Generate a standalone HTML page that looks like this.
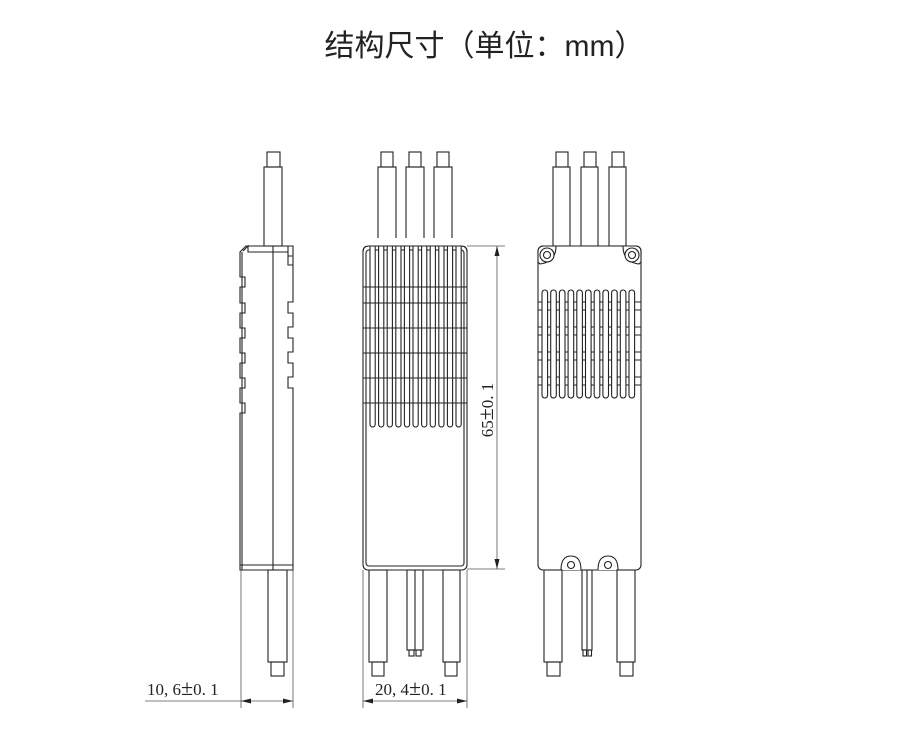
<!DOCTYPE html>
<html><head><meta charset="utf-8">
<style>
html,body{margin:0;padding:0;background:#fff;}
body{width:909px;height:746px;overflow:hidden;position:relative;}
.t{position:absolute;left:55px;width:859px;top:27px;text-align:center;font-family:"Liberation Sans","Noto Sans CJK SC",sans-serif;font-size:30px;color:#222;line-height:40px;}
svg{position:absolute;left:0;top:0;}
.d{font-family:"Liberation Serif","Noto Serif CJK SC",serif;font-size:17px;fill:#222;stroke:none;}
.pm{font-size:22px;}
</style></head><body>
<div class="t">结构尺寸（单位：mm）</div>
<svg width="909" height="746" viewBox="0 0 909 746" fill="none" stroke="#222" stroke-width="1.1">
<defs>
  <g id="fslot"><rect x="0" y="240" width="5.2" height="187" rx="2.6" fill="#fff"/></g>
  <g id="bslot"><rect x="0" y="290" width="5.6" height="108" rx="2.8" fill="#fff"/></g>
</defs>

<!-- SIDE VIEW -->
<rect x="267" y="152" width="13" height="15"/>
<rect x="264" y="167" width="18" height="79"/>
<path d="M240 570 V413 h5 v-10 h-5 V388 h5 v-10 h-5 V363 h5 v-10 h-5 V338 h5 v-10 h-5 V313 h5 v-10 h-5 V287 h5 v-10 h-5 V252 L246 246 H293 V302 h-5 v11 h5 V327 h-5 v11 h5 V352 h-5 v11 h5 V377 h-5 v11 h5 V570 Z"/>
<path d="M242 570 V252 M243 251 L248 246 V252 H288"/>
<line x1="273" y1="246" x2="273" y2="570"/>
<path d="M288 246 V265 H293 M288 256 H293"/>
<line x1="240" y1="565" x2="293" y2="565"/>
<rect x="268" y="570" width="19" height="92"/>
<rect x="271" y="662" width="13" height="14"/>
<g stroke="#555" stroke-width="0.8">
<line x1="241" y1="570" x2="241" y2="708"/>
<line x1="293" y1="570" x2="293" y2="708"/>
<line x1="145" y1="701" x2="293" y2="701"/>
</g>
<path d="M241 701 l10 -2.5 v5 Z M293 701 l-10 -2.5 v5 Z" fill="#222" stroke="none"/>
<text x="147" y="695" class="d">10, 6<tspan class="pm">±</tspan>0. 1</text>

<!-- FRONT VIEW -->
<rect x="381" y="152" width="12" height="15"/><rect x="378" y="167" width="18" height="79"/>
<rect x="409" y="152" width="12" height="15"/><rect x="406" y="167" width="18" height="79"/>
<rect x="437" y="152" width="12" height="15"/><rect x="434" y="167" width="18" height="79"/>
<rect x="363" y="246" width="104" height="324" rx="5" fill="#fff"/>
<rect x="366" y="250" width="98" height="316" rx="3"/>
<g>
<use href="#fslot" x="370"/><use href="#fslot" x="378.6"/><use href="#fslot" x="387.2"/><use href="#fslot" x="395.8"/><use href="#fslot" x="404.4"/><use href="#fslot" x="413"/><use href="#fslot" x="421.6"/><use href="#fslot" x="430.2"/><use href="#fslot" x="438.8"/><use href="#fslot" x="447.4"/><use href="#fslot" x="456"/>
</g>
<g stroke-width="0.9">
<line x1="363" y1="287" x2="467" y2="287"/><line x1="363" y1="303" x2="467" y2="303"/><line x1="363" y1="328" x2="467" y2="328"/><line x1="363" y1="353" x2="467" y2="353"/><line x1="363" y1="378" x2="467" y2="378"/><line x1="363" y1="403" x2="467" y2="403"/>
</g>
<rect x="360" y="238" width="110" height="8" fill="#fff" stroke="none"/>
<path d="M363 252 Q363 246 369 246 H461 Q467 246 467 252"/>
<rect x="369" y="570" width="18" height="92"/><rect x="372" y="662" width="12" height="14"/>
<rect x="443" y="570" width="17" height="92"/><rect x="445" y="662" width="12" height="14"/>
<rect x="407" y="570" width="16" height="80"/><line x1="415" y1="570" x2="415" y2="650"/>
<rect x="409" y="650" width="5" height="6"/><rect x="416" y="650" width="5" height="6"/>
<g stroke="#555" stroke-width="0.8">
<line x1="363" y1="570" x2="363" y2="708"/>
<line x1="467" y1="570" x2="467" y2="708"/>
<line x1="363" y1="701" x2="467" y2="701"/>
<line x1="467" y1="246" x2="505" y2="246"/>
<line x1="467" y1="569" x2="505" y2="569"/>
<line x1="497" y1="246" x2="497" y2="569"/>
</g>
<path d="M363 701 l10 -2.5 v5 Z M467 701 l-10 -2.5 v5 Z M497 246 l-2.5 10 h5 Z M497 569 l-2.5 -10 h5 Z" fill="#222" stroke="none"/>
<text x="375" y="695" class="d">20, 4<tspan class="pm">±</tspan>0. 1</text>
<text transform="translate(493 410) rotate(-90)" text-anchor="middle" class="d">65<tspan class="pm">±</tspan>0. 1</text>

<!-- BACK VIEW -->
<rect x="556" y="152" width="12" height="15"/><rect x="553" y="167" width="17" height="79"/>
<rect x="584" y="152" width="12" height="15"/><rect x="581" y="167" width="17" height="79"/>
<rect x="612" y="152" width="12" height="15"/><rect x="609" y="167" width="17" height="79"/>
<rect x="538" y="246" width="103" height="324" rx="5" fill="#fff"/>
<g stroke-width="0.9">
<line x1="538" y1="302" x2="641" y2="302"/><line x1="538" y1="310" x2="641" y2="310"/><line x1="538" y1="327" x2="641" y2="327"/><line x1="538" y1="335" x2="641" y2="335"/><line x1="538" y1="352" x2="641" y2="352"/><line x1="538" y1="360" x2="641" y2="360"/><line x1="538" y1="377" x2="641" y2="377"/><line x1="538" y1="385" x2="641" y2="385"/>
</g>
<g>
<use href="#bslot" x="542"/><use href="#bslot" x="550.7"/><use href="#bslot" x="559.4"/><use href="#bslot" x="568.1"/><use href="#bslot" x="576.8"/><use href="#bslot" x="585.5"/><use href="#bslot" x="594.2"/><use href="#bslot" x="602.9"/><use href="#bslot" x="611.6"/><use href="#bslot" x="620.3"/><use href="#bslot" x="629"/>
</g>
<path d="M538 262 V252 Q538 246 544 246 H556 Q556 262 540 264 Z" fill="#fff"/>
<circle cx="547" cy="255" r="7" fill="#fff"/><circle cx="547" cy="255" r="3.5"/>
<path d="M641 262 V252 Q641 246 635 246 H623 Q623 262 639 264 Z" fill="#fff"/>
<circle cx="632" cy="255" r="7" fill="#fff"/><circle cx="632" cy="255" r="3.5"/>
<path d="M561 570 Q561 556 571 556 Q581 556 581 570" fill="#fff"/>
<circle cx="571" cy="565" r="3.5"/>
<path d="M598 570 Q598 556 608 556 Q618 556 618 570" fill="#fff"/>
<circle cx="608" cy="565" r="3.5"/>
<rect x="544" y="570" width="18" height="92"/><rect x="547" y="662" width="13" height="14"/>
<rect x="617" y="570" width="18" height="92"/><rect x="620" y="662" width="13" height="14"/>
<rect x="582" y="570" width="10" height="80"/><line x1="587" y1="570" x2="587" y2="650"/>
<rect x="583" y="650" width="3.5" height="6"/><rect x="588" y="650" width="3.5" height="6"/>
</svg>
</body></html>
